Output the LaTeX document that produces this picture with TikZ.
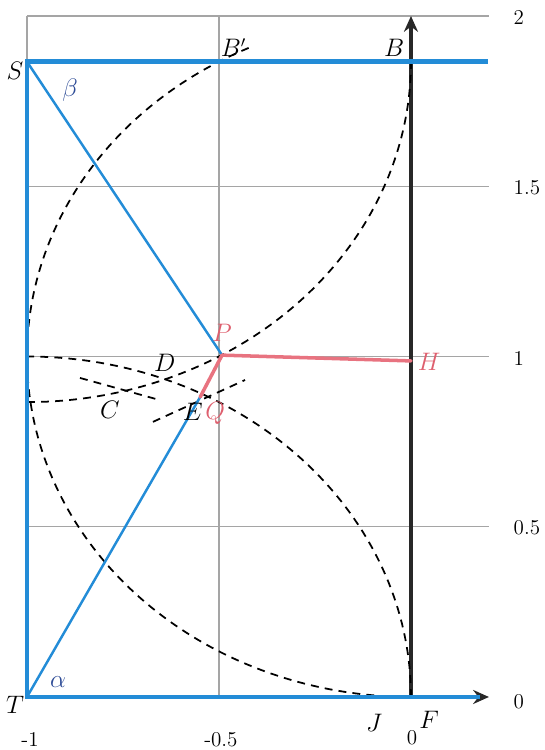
\documentclass[tikz,border=0pt]{standalone}
\usetikzlibrary{arrows.meta}
\definecolor{boxblue}{RGB}{35,140,215}
\definecolor{pinkline}{RGB}{232,115,128}
\definecolor{pinktext}{RGB}{222,95,110}
\definecolor{greektext}{RGB}{45,75,150}
\definecolor{gridgray}{RGB}{165,165,165}
\definecolor{axisdark}{RGB}{40,40,40}
\begin{document}
\begin{tikzpicture}[x=7.68cm,y=6.81cm,
  gridline/.style={gridgray,line width=0.6pt},
  thickblue/.style={boxblue,line width=2.5pt,line join=miter},
  thinblue/.style={boxblue,line width=1.4pt},
  pinkseg/.style={pinkline,line width=2pt,line cap=round},
  dashcurve/.style={black,line width=1pt,dash pattern=on 4.5pt off 3.5pt},
  axisline/.style={axisdark,line width=1.9pt,-{Stealth[length=9pt,width=8pt,inset=3pt]}},
  lbl/.style={font=\fontsize{13.5}{16}\selectfont,inner sep=0pt},
  numlbl/.style={font=\fontsize{12}{14}\selectfont,inner sep=0pt},
  pinklbl/.style={lbl,text=pinktext},
  greeklbl/.style={lbl,text=greektext}]
\useasboundingbox (-1.0703,-0.1557) rectangle (0.3464,2.047);
% key points
\coordinate (S) at (-1,1.866);
\coordinate (B) at (0,1.866);
\coordinate (Bp) at (-0.5,1.866);
\coordinate (T) at (-1,0);
\coordinate (F) at (0,0);
\coordinate (P) at (-0.492,1.004);
\coordinate (E) at (-0.549,0.881);
\coordinate (H) at (0,0.987);
\coordinate (TR) at (0.2,1.866);
\coordinate (BR) at (0.18,0);
\coordinate (XEnd) at (0.203,0);
\coordinate (YEnd) at (0,2);
% grid
\foreach \yy in {0.5,1,1.5,2}{
  \draw[gridline] (-1,\yy) -- (0.203,\yy);
}
\draw[gridline] (-1,0) -- (-1,2);
\draw[gridline] (-0.5,0) -- (-0.5,2);
% axes
\draw[axisline] (T) -- (XEnd);
\draw[axisline] (F) -- (YEnd);
% dashed construction curves
\draw[dashcurve] plot[domain=115:270,samples=80,smooth] ({cos(\x)},{1+sin(\x)});
\draw[dashcurve] plot[domain=-90:0,samples=60,smooth] ({-1+cos(\x)},{1.866+sin(\x)});
\draw[dashcurve] plot[domain=0:90,samples=60,smooth] ({-1+cos(\x)},{sin(\x)});
\coordinate (c1) at (-0.862,0.937);
\coordinate (c2) at (-0.654,0.872);
\coordinate (e1) at (-0.672,0.808);
\coordinate (e2) at (-0.432,0.931);
\draw[dashcurve] (c1) -- (c2);
\draw[dashcurve] (e1) -- (e2);
% blue frame and rays
\draw[thickblue] (TR) -- (S) -- (T) -- (BR);
\draw[thinblue] (S) -- (P);
\draw[thinblue] (T) -- (E);
% pink segments
\draw[pinkseg] (P) -- (H);
\draw[pinkseg] (P) -- (E);
% labels
\node[lbl] (Slab) at (-1.031,1.838) {$S$};
\node[greeklbl] (betalab) at (-0.888,1.783) {$\beta$};
\node[lbl] (Bplab) at (-0.462,1.906) {$B'$};
\node[lbl] (Blab) at (-0.044,1.906) {$B$};
\node[pinklbl] (Plab) at (-0.492,1.069) {$P$};
\node[lbl] (Dlab) at (-0.641,0.981) {$D$};
\node[pinklbl] (Hlab) at (0.047,0.984) {$H$};
\node[lbl] (Clab) at (-0.784,0.843) {$C$};
\node[lbl] (Elab) at (-0.568,0.837) {$E$};
\node[pinklbl] (Qlab) at (-0.51,0.834) {$Q$};
\node[greeklbl] (alphalab) at (-0.919,0.044) {$\alpha$};
\node[lbl] (Tlab) at (-1.031,-0.023) {$T$};
\node[lbl] (Jlab) at (-0.096,-0.076) {$J$};
\node[lbl] (Flab) at (0.047,-0.068) {$F$};
% axis numbers
\node[numlbl] (y2) at (0.281,1.997) {2};
\node[numlbl] (y15) at (0.302,1.495) {1.5};
\node[numlbl] (y1) at (0.281,0.993) {1};
\node[numlbl] (y05) at (0.302,0.496) {0.5};
\node[numlbl] (y0) at (0.281,-0.015) {0};
\node[numlbl] (xm1) at (-0.992,-0.126) {-1};
\node[numlbl] (xm05) at (-0.495,-0.126) {-0.5};
\node[numlbl] (x0) at (0.003,-0.120) {0};
\end{tikzpicture}
\end{document}
